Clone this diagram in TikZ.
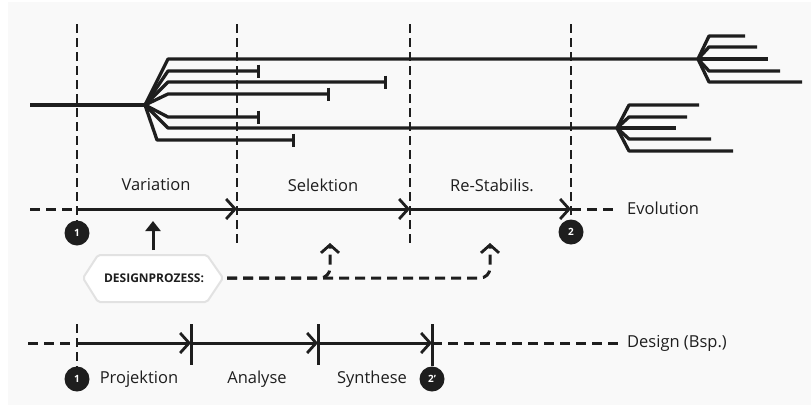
\documentclass[tikz,border=0pt]{standalone}
\usepackage{fontspec}
\setmainfont{Open Sans}
\usetikzlibrary{arrows.meta}
\definecolor{ink}{HTML}{1E1E1E}
\definecolor{panel}{HTML}{F9F9F9}
\definecolor{hexedge}{HTML}{E2E2E2}
\begin{document}
\begin{tikzpicture}[x=1pt,y=-1pt,
  tree/.style={draw=ink, line width=3.3pt, line join=round},
  guide/.style={draw=ink, line width=2.8pt, dash pattern=on 9pt off 5pt},
  axis/.style={draw=ink, line width=3pt},
  axisdash/.style={draw=ink, line width=3pt, dash pattern=on 10pt off 6pt},
  barb/.style={-{Straight Barb[length=9pt,width=20pt,line width=2.8pt]}},
  endbar/.style={-{Bar[width=13pt,line width=3pt]}},
  badge/.style={circle, fill=ink, text=white, inner sep=0pt, minimum size=25pt, font=\bfseries\fontsize{10}{10}\selectfont},
  lab/.style={text=ink, inner sep=0pt, font=\fontsize{16.5}{16.5}\selectfont},
  hexlab/.style={text=ink, inner sep=0pt, font=\bfseries\fontsize{12}{12}\selectfont}
]
% background
\fill[white] (0,0) rectangle (811,405);
\fill[panel] (8,2) rectangle (811,405);
\useasboundingbox (0,0) rectangle (811,405);

% guide lines (dashed verticals)
\node[badge] (e1) at (77,233) {1};
\node[badge] (e2) at (571,232) {2};
\draw[guide] (77,24) -- (e1.north);
\draw[guide] (237,24) -- (237,245);
\draw[guide] (410,24) -- (410,245);
\draw[guide] (571,24) -- (e2.north);

% tree
\coordinate (r0) at (30,105);
\coordinate (sp) at (145,105);
\draw[tree] (r0) -- (sp);
\coordinate (sa) at (698,59);
\coordinate (sb) at (617,128);
\draw[tree] (sp) -- (168,59) -- (sa);
\draw[tree,endbar] (sp) -- (168,71) -- (260,71);
\draw[tree,endbar] (sp) -- (168,82) -- (387,82);
\draw[tree,endbar] (sp) -- (168,94) -- (330,94);
\draw[tree,endbar] (sp) -- (168,117) -- (260,117);
\draw[tree] (sp) -- (168,128) -- (sb);
\draw[tree,endbar] (sp) -- (157,140) -- (295,140);
% upper right fan
\draw[tree] (sa) -- (709,36) -- (745,36);
\draw[tree] (sa) -- (709,47) -- (757,47);
\draw[tree] (sa) -- (768,59);
\draw[tree] (sa) -- (709,71) -- (780,71);
\draw[tree] (sa) -- (709,82) -- (802,82);
% lower right fan
\draw[tree] (sb) -- (629,105) -- (699,105);
\draw[tree] (sb) -- (629,117) -- (687,117);
\draw[tree] (sb) -- (676,128);
\draw[tree] (sb) -- (629,139) -- (711,139);
\draw[tree] (sb) -- (629,151) -- (733,151);

% phase labels
\node[lab] (lv) at (156,185) {Variation};
\node[lab] (ls) at (323,185) {Selektion};
\node[lab] (lr) at (492,185) {Re-Stabilis.};

% Evolution axis
\coordinate (ea) at (30,209);
\coordinate (e0) at (77,209);
\coordinate (ev1) at (237,209);
\coordinate (ev2) at (410,209);
\coordinate (ev3) at (571,209);
\coordinate (eend) at (618,209);
\draw[axisdash] (ea) -- (e0);
\draw[axis,barb] (e0) -- (ev1);
\draw[axis,barb] (ev1) -- (ev2);
\draw[axis,barb] (ev2) -- (ev3);
\draw[axisdash] (ev3) -- (eend);
\node[lab,anchor=west] (evo) at (627,208) {Evolution};

% Designprozess
\filldraw[fill=white, draw=hexedge, line width=2pt, rounded corners=2pt]
  (83,278) -- (98,255) -- (207,255) -- (223,278) -- (207,302) -- (98,302) -- cycle;
\node[hexlab] (dp) at (154,278) {DESIGNPROZESS:};
\coordinate (dpe) at (227,278);
\draw[ink, line width=3pt, -{Triangle[length=10pt,width=15pt]}] (153,250) -- (153,221);
\draw[axisdash, rounded corners=10pt, -{Straight Barb[length=8pt,width=18pt,line width=2.8pt]}]
  (dpe) -- (330,278) -- (330,243);
\draw[axisdash, rounded corners=10pt, -{Straight Barb[length=8pt,width=18pt,line width=2.8pt]}]
  (dpe) -- (490,278) -- (490,243);

% Design axis
\node[badge] (d1) at (77,379) {1};
\node[badge] (d2) at (432,379) {2'};
\coordinate (da) at (28,343);
\coordinate (d0) at (77,343);
\coordinate (dv1) at (191,343);
\coordinate (dv2) at (318,343);
\coordinate (dv3) at (432,343);
\coordinate (dend) at (618,343);
\draw[guide] (77,324) -- (d1.north);
\draw[axis] (191,324) -- (191,365);
\draw[axis] (318,324) -- (318,365);
\draw[axis] (432,324) -- (d2.north);
\draw[axisdash] (da) -- (d0);
\draw[axis,barb] (d0) -- (dv1);
\draw[axis,barb] (dv1) -- (dv2);
\draw[axis,barb] (dv2) -- (dv3);
\draw[axisdash] (dv3) -- (dend);
\node[lab,anchor=west] (des) at (627,343) {Design (Bsp.)};
\node[lab] (lp) at (139,379) {Projektion};
\node[lab] (la) at (257,379) {Analyse};
\node[lab] (lsy) at (372,379) {Synthese};
\end{tikzpicture}
\end{document}
